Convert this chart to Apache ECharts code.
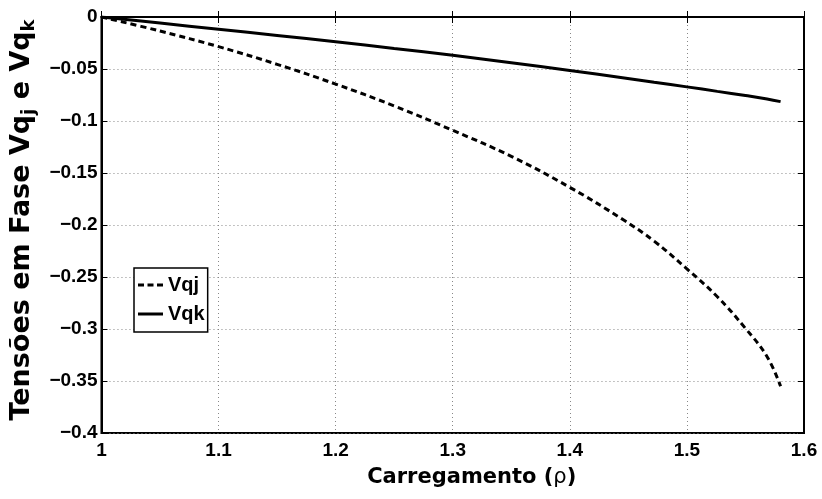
<!DOCTYPE html>
<html style="height: 100%">
<head>
    <meta charset="UTF-8">
    <title>Vqj e Vqk</title>
    <script type="text/javascript" src="https://cdn.jsdelivr.net/npm/echarts@6/dist/echarts.min.js"></script>
</head>
<body style="height: 100%; margin: 0; background: #fff">
    <div id="container" style="width: 822px; height: 499px"></div>
    <script type="text/javascript">
        // valores
        var rho = [1.00, 1.05, 1.10, 1.15, 1.20, 1.25, 1.30, 1.35, 1.40, 1.445, 1.472, 1.50, 1.526, 1.55, 1.5685, 1.58];
        var vqj = [0, -0.0135, -0.0285, -0.0455, -0.0645, -0.0855, -0.109, -0.134, -0.1638, -0.1945, -0.2155, -0.2422, -0.269, -0.2994, -0.3266, -0.355];
        var vqk = [0, -0.0058, -0.0118, -0.0177, -0.0237, -0.0302, -0.0368, -0.044, -0.0514, -0.0584, -0.0628, -0.0672, -0.0715, -0.0755, -0.0788, -0.0814];

        var xTicks = [1, 1.1, 1.2, 1.3, 1.4, 1.5, 1.6];
        var yTicks = [0, -0.05, -0.1, -0.15, -0.2, -0.25, -0.3, -0.35, -0.4];

        var fnt = 'Liberation Sans, Arial, Helvetica, sans-serif';
        var fntTitle = 'DejaVu Sans, Liberation Sans, sans-serif';

        function pairs(xs, ys) {
            return xs.map(function (x, i) { return [x, ys[i]]; });
        }

        var myChart = echarts.init(document.getElementById('container'));

        var option = {
            animation: false,
            textStyle: { fontFamily: fnt },
            grid: {
                left: 97, right: 18, top: 17, bottom: 66,
                show: true, borderColor: '#000', borderWidth: 2
            },
            legend: {
                left: 134, top: 268,
                orient: 'vertical',
                backgroundColor: '#fff',
                borderColor: '#000', borderWidth: 1.5,
                padding: [6, 3, 7, 4],
                itemGap: 7,
                itemWidth: 25, itemHeight: 3,
                textStyle: { fontFamily: fnt, fontSize: 20, fontWeight: 'bold', color: '#000', lineHeight: 22 },
                data: [
                    { name: 'Vqj', icon: 'path://M0,0h6v3h-6z M9.5,0h6v3h-6z M19,0h6v3h-6z' },
                    { name: 'Vqk', icon: 'path://M0,0h25v3h-25z' }
                ]
            },
            xAxis: [{
                type: 'value', min: 1, max: 1.6, interval: 0.1,
                name: '{b|Carregamento (}{r|ρ}{b|)}',
                nameLocation: 'middle', nameGap: 34,
                nameTextStyle: {
                    padding: [0, 0, 0, 38],
                    rich: {
                        b: { fontFamily: fntTitle, fontSize: 21, fontWeight: 'bold', color: '#000' },
                        r: { fontFamily: fntTitle, fontSize: 21, color: '#000' }
                    }
                },
                axisLine: { lineStyle: { color: '#000', width: 2 } },
                axisTick: { inside: true, length: 6, lineStyle: { color: '#000', width: 1 } },
                axisLabel: {
                    margin: 8, color: '#000', fontSize: 19, fontWeight: 'bold', fontFamily: fnt,
                    formatter: function (v) {
                        var s = +v.toFixed(1);
                        return xTicks.indexOf(s) >= 0 ? String(s) : '';
                    }
                },
                splitLine: { show: true, lineStyle: { color: '#888', type: [1, 3], width: 1 } }
            }, {
                type: 'value', position: 'top', min: 1, max: 1.6, interval: 0.1,
                axisLine: { show: true, lineStyle: { color: '#000', width: 2 } },
                axisTick: { show: true, inside: true, length: 6, lineStyle: { color: '#000' } },
                axisLabel: { show: false },
                splitLine: { show: false }
            }],
            yAxis: [{
                type: 'value', min: -0.4, max: 0, interval: 0.05,
                name: '{b|Tensões em Fase Vq}{s|j}{b| e Vq}{s|k}',
                nameLocation: 'middle', nameGap: 60, nameRotate: 90,
                nameTextStyle: {
                    padding: [0, 0, 0, 10],
                    rich: {
                        b: { fontFamily: fntTitle, fontSize: 27, fontWeight: 'bold', color: '#000' },
                        s: { fontFamily: fntTitle, fontSize: 18, fontWeight: 'bold', color: '#000', padding: [16, 0, 0, 0] }
                    }
                },
                axisLine: { lineStyle: { color: '#000', width: 2 } },
                axisTick: { inside: true, length: 6, lineStyle: { color: '#000', width: 1 } },
                axisLabel: {
                    margin: 4, color: '#000', fontSize: 19, fontWeight: 'bold', fontFamily: fnt,
                    formatter: function (v) {
                        var s = +v.toFixed(2);
                        if (yTicks.indexOf(s) < 0) return '';
                        return s === 0 ? '0' : String(s).replace('-', '\u2212');
                    }
                },
                splitLine: { show: true, lineStyle: { color: '#888', type: [1, 3], width: 1 } }
            }, {
                type: 'value', position: 'right', min: -0.4, max: 0, interval: 0.05,
                axisLine: { show: true, lineStyle: { color: '#000', width: 2 } },
                axisTick: { show: true, inside: true, length: 6, lineStyle: { color: '#000' } },
                axisLabel: { show: false },
                splitLine: { show: false }
            }],
            series: [{
                name: 'Vqj', type: 'line', smooth: 0.4,
                showSymbol: false, symbol: 'none',
                lineStyle: { color: '#000', width: 3, type: [6, 4] },
                itemStyle: { color: '#000' },
                data: pairs(rho, vqj)
            }, {
                name: 'Vqk', type: 'line', smooth: 0.4,
                showSymbol: false, symbol: 'none',
                lineStyle: { color: '#000', width: 3, type: 'solid' },
                itemStyle: { color: '#000' },
                data: pairs(rho, vqk)
            }]
        };

        myChart.setOption(option);
    </script>
</body>
</html>
